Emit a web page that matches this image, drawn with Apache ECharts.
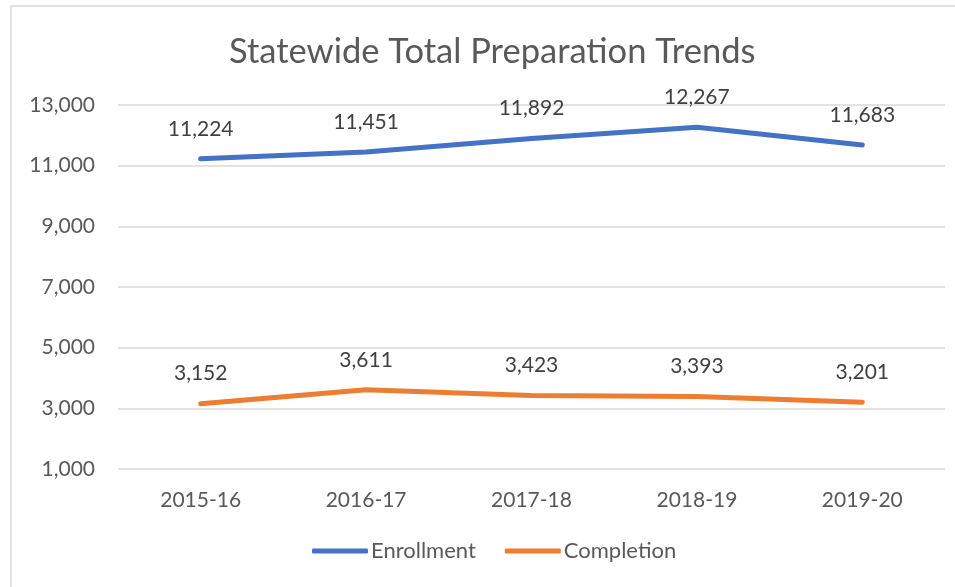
<!DOCTYPE html>
<html>
<head>
<meta charset="utf-8">
<script src="https://cdn.jsdelivr.net/npm/echarts@6/dist/echarts.min.js"></script>
<style>
  html, body { margin: 0; padding: 0; background: #fff; }
  #chart { width: 955px; height: 587px; }
</style>
</head>
<body>
<div id="chart"></div>
<script>
const years = ['2015-16', '2016-17', '2017-18', '2018-19', '2019-20']
const enrollment = [11224, 11451, 11892, 12267, 11683]
const completion = [3152, 3611, 3423, 3393, 3201]

const font = 'Lato, "Open Sans", sans-serif'
const fmt = v => v.toLocaleString('en-US')

function makeSerie (name, data, color) {
  return {
    name: name,
    type: 'line',
    data: data,
    symbol: 'circle',
    symbolSize: 1,
    showSymbol: true,
    lineStyle: { width: 5, color: color, cap: 'round' },
    itemStyle: { color: color },
    label: {
      show: true,
      position: 'top',
      distance: 19,
      fontFamily: font,
      fontSize: 21,
      color: '#404040',
      formatter: p => fmt(p.value)
    }
  }
}

const dom = echarts.init(document.getElementById('chart'))
dom.setOption({
  animation: false,
  title: {
    text: 'Statewide Total Preparation Trends',
    left: 224,
    top: 29,
    textStyle: { fontFamily: font, fontSize: 34.5, fontWeight: 'normal', color: '#595959' }
  },
  legend: {
    bottom: 20,
    left: 307,
    itemWidth: 56,
    itemHeight: 5,
    itemGap: 29,
    icon: 'roundRect',
    textStyle: { fontFamily: font, fontSize: 22, color: '#595959', padding: [0, 0, 0, -2] },
    data: ['Enrollment', 'Completion']
  },
  grid: { left: 118, right: 10, top: 105, bottom: 118 },
  xAxis: {
    type: 'category',
    data: years,
    axisLine: { show: false },
    axisTick: { show: false },
    axisLabel: { fontFamily: font, fontSize: 21, color: '#595959', margin: 21 }
  },
  yAxis: {
    type: 'value',
    min: 1000,
    max: 13000,
    interval: 2000,
    axisLine: { show: false },
    axisTick: { show: false },
    splitLine: { lineStyle: { color: '#d9d9d9', width: 1.5 } },
    axisLabel: { fontFamily: font, fontSize: 21, color: '#595959', margin: 23, formatter: fmt }
  },
  graphic: [{
    type: 'rect',
    shape: { x: 11, y: 6, width: 960, height: 600 },
    style: { fill: 'none', stroke: '#d9d9d9', lineWidth: 1.5 },
    silent: true
  }],
  series: [
    makeSerie('Enrollment', enrollment, '#4472C4'),
    makeSerie('Completion', completion, '#ED7D31')
  ]
})
</script>
</body>
</html>
